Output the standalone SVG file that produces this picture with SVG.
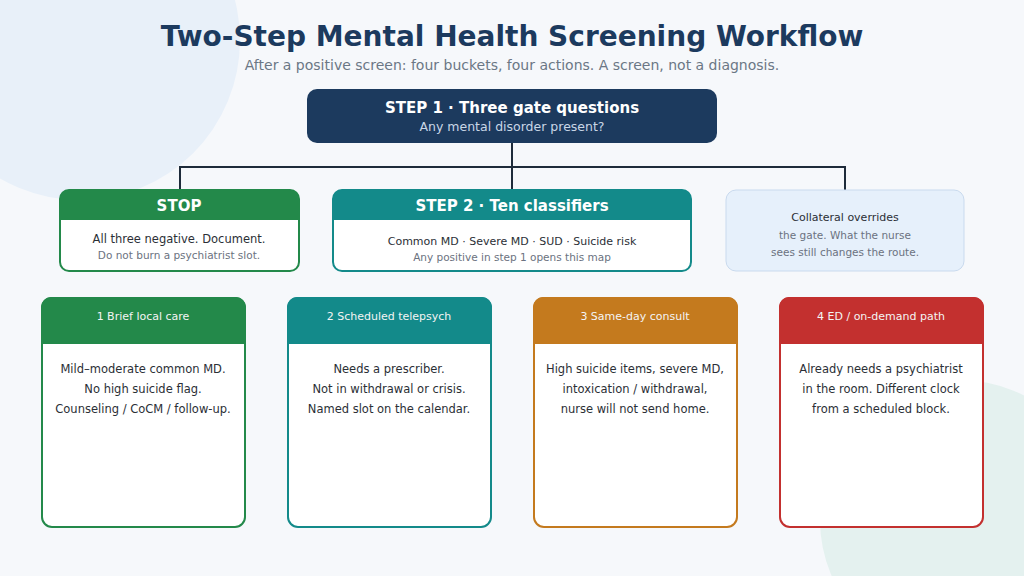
<svg xmlns="http://www.w3.org/2000/svg" width="1024" height="576" viewBox="0 0 1024 576">
<style>
text{font-family:"DejaVu Sans","Liberation Sans",sans-serif;text-anchor:middle}
.t{font-size:28px;font-weight:bold;fill:#1c3a5e}
.s{font-size:14px;fill:#6b7785}
.hw{fill:#fff;font-weight:bold;font-size:15px}
.b{font-size:11.5px;fill:#2b2f36}
.g{font-size:10.5px;fill:#6b7280}
.ch{font-size:11px;fill:#f4f4f4}
.conn{stroke:#1e2b3a;stroke-width:2;fill:none}
</style>
<rect width="1024" height="576" fill="#f6f8fb"/>
<circle cx="80" cy="40" r="160" fill="#e8f0f9"/>
<circle cx="960" cy="520" r="140" fill="#e4f1ef"/>
<text x="512" y="46" class="t">Two-Step Mental Health Screening Workflow</text>
<text x="512" y="70" class="s">After a positive screen: four buckets, four actions. A screen, not a diagnosis.</text>
<g id="connectors">
<path class="conn" d="M512 143V167M180 190V167H845V190M512 167V190"/>
</g>
<g id="step1">
<rect x="307" y="89" width="410" height="54" rx="10" fill="#1c3a5e"/>
<text x="512" y="113" class="hw">STEP 1  ·  Three gate questions</text>
<text x="512" y="131" style="font-size:12.5px;fill:#c9d6e6">Any mental disorder present?</text>
</g>
<g id="stop">
<rect x="60" y="190" width="239" height="81" rx="9" fill="#fff" stroke="#23894a" stroke-width="2"/>
<path d="M60 220V199a9 9 0 0 1 9-9H290a9 9 0 0 1 9 9V220Z" fill="#23894a"/>
<text x="179" y="211" class="hw">STOP</text>
<text x="179" y="243" class="b">All three negative. Document.</text>
<text x="179" y="259" class="g">Do not burn a psychiatrist slot.</text>
</g>
<g id="step2">
<rect x="333" y="190" width="358" height="81" rx="9" fill="#fff" stroke="#138a8a" stroke-width="2"/>
<path d="M333 220V199a9 9 0 0 1 9-9H682a9 9 0 0 1 9 9V220Z" fill="#138a8a"/>
<text x="512" y="211" class="hw">STEP 2  ·  Ten classifiers</text>
<text x="512" y="245" class="b" style="font-size:11px">Common MD  ·  Severe MD  ·  SUD  ·  Suicide risk</text>
<text x="512" y="261" class="g">Any positive in step 1 opens this map</text>
</g>
<g id="collateral">
<rect x="726" y="190" width="238" height="81" rx="10" fill="#e6f0fb" stroke="#c9daee"/>
<text x="845" y="221" class="b" style="font-size:11px">Collateral overrides</text>
<text x="845" y="239" class="g">the gate. What the nurse</text>
<text x="845" y="256" class="g">sees still changes the route.</text>
</g>
<g id="c1">
<rect x="42" y="298" width="203" height="229" rx="10" fill="#fff" stroke="#23894a" stroke-width="2"/>
<path d="M41 344V307a10 10 0 0 1 10-10H236a10 10 0 0 1 10 10V344Z" fill="#23894a"/>
<text x="143" y="320" class="ch">1  Brief local care</text>
<text x="143" y="373" class="b">Mild–moderate common MD.</text>
<text x="143" y="393" class="b">No high suicide flag.</text>
<text x="143" y="413" class="b">Counseling / CoCM / follow-up.</text>
</g>
<g id="c2">
<rect x="288" y="298" width="203" height="229" rx="10" fill="#fff" stroke="#138a8a" stroke-width="2"/>
<path d="M287 344V307a10 10 0 0 1 10-10H482a10 10 0 0 1 10 10V344Z" fill="#138a8a"/>
<text x="389" y="320" class="ch">2  Scheduled telepsych</text>
<text x="389" y="373" class="b">Needs a prescriber.</text>
<text x="389" y="393" class="b">Not in withdrawal or crisis.</text>
<text x="389" y="413" class="b">Named slot on the calendar.</text>
</g>
<g id="c3">
<rect x="534" y="298" width="203" height="229" rx="10" fill="#fff" stroke="#c47a1e" stroke-width="2"/>
<path d="M533 344V307a10 10 0 0 1 10-10H728a10 10 0 0 1 10 10V344Z" fill="#c47a1e"/>
<text x="635" y="320" class="ch">3  Same-day consult</text>
<text x="635" y="373" class="b">High suicide items, severe MD,</text>
<text x="635" y="393" class="b">intoxication / withdrawal,</text>
<text x="635" y="413" class="b">nurse will not send home.</text>
</g>
<g id="c4">
<rect x="780" y="298" width="203" height="229" rx="10" fill="#fff" stroke="#c3302f" stroke-width="2"/>
<path d="M779 344V307a10 10 0 0 1 10-10H974a10 10 0 0 1 10 10V344Z" fill="#c3302f"/>
<text x="881" y="320" class="ch">4  ED / on-demand path</text>
<text x="881" y="373" class="b">Already needs a psychiatrist</text>
<text x="881" y="393" class="b">in the room. Different clock</text>
<text x="881" y="413" class="b">from a scheduled block.</text>
</g>
</svg>
